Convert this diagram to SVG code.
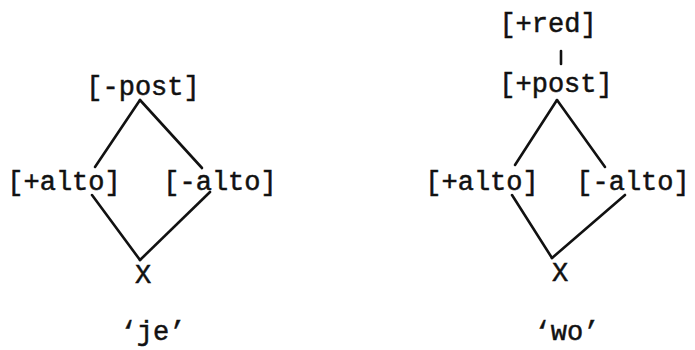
<svg xmlns="http://www.w3.org/2000/svg" width="695" height="350" viewBox="0 0 695 350">
  <style>
    .lbl { font-family: "Liberation Mono", "Courier New", monospace; font-size: 27px; fill: #111; stroke: #111; stroke-width: 0.5; text-anchor: middle; }
    .edge { stroke: #111; stroke-width: 2.6; fill: none; stroke-linecap: round; }
  </style>
  <rect width="695" height="350" fill="#fff"/>

  <!-- left lattice: 'je' -->
  <g id="connectors-je">
    <line class="edge" x1="140" y1="100" x2="95" y2="167"/>
    <line class="edge" x1="140" y1="100" x2="202" y2="168"/>
    <line class="edge" x1="92" y1="195" x2="140" y2="260"/>
    <line class="edge" x1="210" y1="192" x2="140" y2="260"/>
  </g>
  <g id="je-post"><text class="lbl" x="143" y="95">[-post]</text></g>
  <g id="je-plus-alto"><text class="lbl" x="64" y="190">[+alto]</text></g>
  <g id="je-minus-alto"><text class="lbl" x="220" y="190">[-alto]</text></g>
  <g id="je-x"><text class="lbl" x="143" y="283">X</text></g>
  <g id="je-gloss"><text class="lbl" x="153" y="340">‘je’</text></g>

  <!-- right lattice: 'wo' -->
  <g id="connectors-wo">
    <line class="edge" x1="561" y1="51" x2="561" y2="64"/>
    <line class="edge" x1="557" y1="100" x2="515" y2="165"/>
    <line class="edge" x1="557" y1="100" x2="605" y2="167"/>
    <line class="edge" x1="512" y1="195" x2="552" y2="258"/>
    <line class="edge" x1="625" y1="195" x2="552" y2="258"/>
  </g>
  <g id="wo-red"><text class="lbl" x="548" y="32">[+red]</text></g>
  <g id="wo-post"><text class="lbl" x="556" y="92">[+post]</text></g>
  <g id="wo-plus-alto"><text class="lbl" x="482" y="190">[+alto]</text></g>
  <g id="wo-minus-alto"><text class="lbl" x="633" y="190">[-alto]</text></g>
  <g id="wo-x"><text class="lbl" x="560" y="281">X</text></g>
  <g id="wo-gloss"><text class="lbl" x="567" y="340">‘wo’</text></g>
</svg>
